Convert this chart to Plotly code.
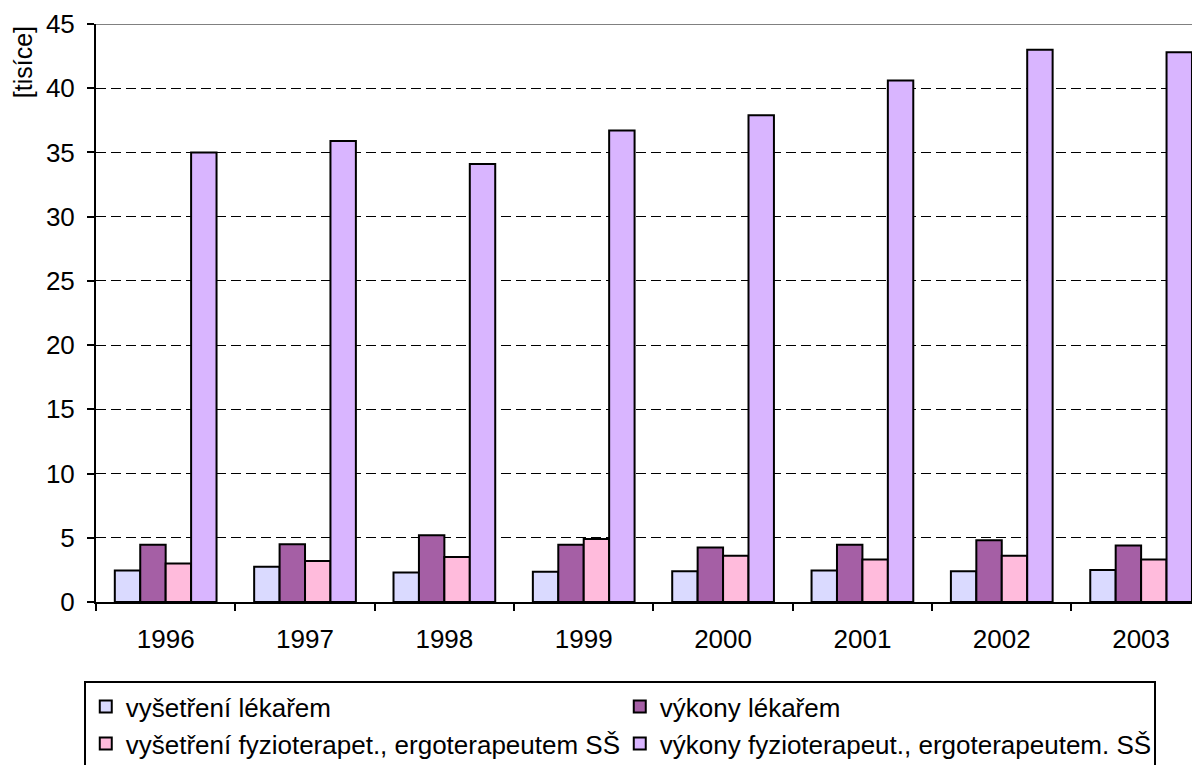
import plotly.graph_objects as go

years = ["1996", "1997", "1998", "1999", "2000", "2001", "2002", "2003"]
vys_lekar = [2.45, 2.75, 2.3, 2.35, 2.4, 2.45, 2.4, 2.5]
vyk_lekar = [4.45, 4.5, 5.2, 4.45, 4.25, 4.45, 4.8, 4.4]
vys_fyzio = [3.0, 3.2, 3.5, 4.9, 3.6, 3.3, 3.6, 3.3]
vyk_fyzio = [35.0, 35.9, 34.1, 36.7, 37.9, 40.6, 43.0, 42.8]

names = [
    "vyšetření lékařem",
    "výkony lékařem",
    "vyšetření fyzioterapet., ergoterapeutem SŠ",
    "výkony fyzioterapeut., ergoterapeutem. SŠ",
]
colors = ["#DADAFF", "#A55FA5", "#FFBBDC", "#D9B5FF"]
series = [vys_lekar, vyk_lekar, vys_fyzio, vyk_fyzio]

FONT = "Liberation Sans, Arial, sans-serif"
FS = 26

fig = go.Figure()
for n, c, v in zip(names, colors, series):
    fig.add_trace(go.Bar(
        x=years, y=v, name=n,
        marker=dict(color=c, line=dict(color="black", width=2)),
    ))

fig.update_layout(
    width=1200, height=765,
    margin=dict(l=88, r=0, t=16, b=171, autoexpand=False),
    paper_bgcolor="white", plot_bgcolor="white",
    barmode="group", bargap=0.27, bargroupgap=0,
    font=dict(family=FONT, size=FS, color="black"),
    showlegend=True,
    legend=dict(
        orientation="h", x=-0.011, xanchor="left", y=-0.137, yanchor="top",
        entrywidth=489, entrywidthmode="pixels", itemwidth=30,
        bordercolor="black", borderwidth=2, bgcolor="white",
        font=dict(family=FONT, size=FS, color="black"),
        traceorder="normal", itemclick=False, tracegroupgap=0,
    ),
    xaxis=dict(
        type="category", range=[-0.5, 7.48], automargin=False,
        showline=True, linecolor="black", linewidth=2,
        ticks="outside", tickson="boundaries", ticklen=7, tickwidth=2, tickcolor="black",
        showgrid=False, tickfont=dict(size=FS), ticklabelstandoff=13,
    ),
    yaxis=dict(
        range=[0, 45], dtick=5, tick0=0, automargin=False,
        showline=True, linecolor="black", linewidth=2,
        ticks="outside", ticklen=7, tickwidth=2, tickcolor="black",
        showgrid=True, gridcolor="black", griddash="10px,5px", gridwidth=1,
        zeroline=False, tickfont=dict(size=FS), ticklabelstandoff=7,
    ),
    annotations=[dict(
        text="[tisíce]", textangle=-90, xref="paper", yref="paper",
        x=-0.0656, y=0.934, xanchor="center", yanchor="middle", showarrow=False,
        font=dict(family=FONT, size=25, color="black"),
    )],
    shapes=[dict(
        type="line", xref="paper", yref="y", x0=0, x1=1, y0=45, y1=45,
        line=dict(color="#808080", width=2), layer="above",
    )],
)

fig.write_html("out.html")
